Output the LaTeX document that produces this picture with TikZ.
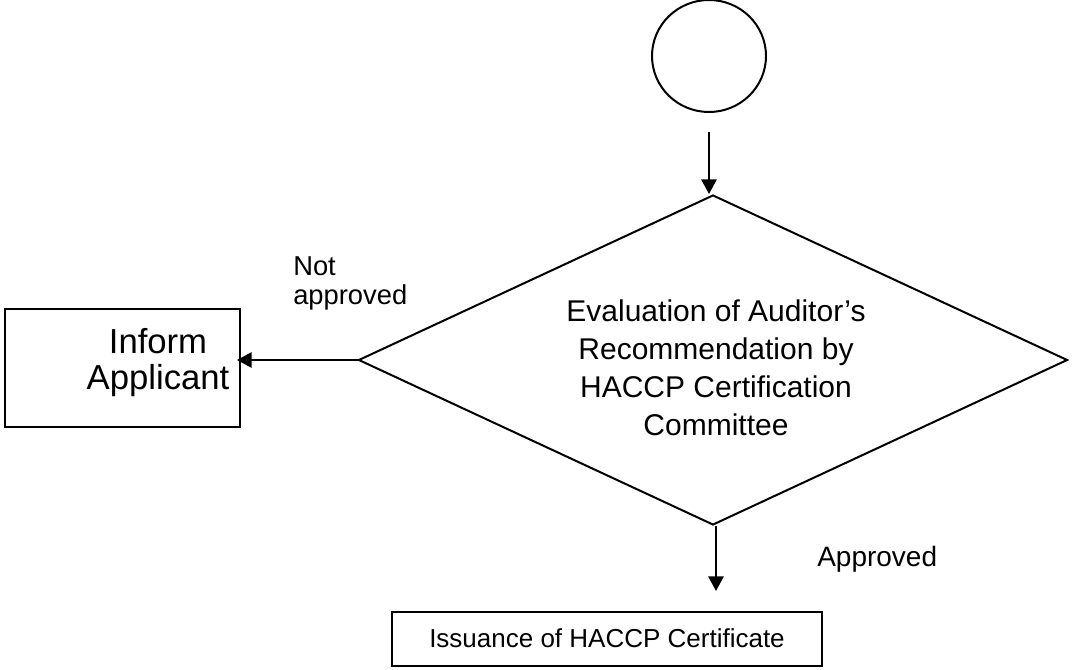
\documentclass[tikz,border=0pt]{standalone}
\usepackage{fontspec}
\setmainfont{Liberation Sans}
\usetikzlibrary{shapes.geometric,arrows.meta}
\begin{document}
\begin{tikzpicture}[x=0.75pt,y=-0.75pt,
  ln/.style={line width=1.5pt},
  arr/.style={ln,-{Triangle[length=11pt,width=11.5pt]}},
  boxst/.style={draw,ln,rectangle,inner sep=0pt},
  txt/.style={font=\fontsize{22.5}{28.5}\selectfont,align=center,inner sep=0pt},
  bigtxt/.style={font=\fontsize{26}{27}\selectfont,align=center,inner sep=0pt},
  smalltxt/.style={font=\fontsize{20.5}{22}\selectfont,align=left,inner sep=0pt}]
\useasboundingbox (0,0) rectangle (1072,670);
\node[draw,ln,ellipse,inner sep=0pt,minimum width=85.5pt,minimum height=84pt] (circ) at (709,56) {};
\node[draw,ln,diamond,aspect=2.15,inner sep=0pt,minimum width=531.75pt,minimum height=247.5pt] (dia) at (713,360) {};
\node[txt] (diatext) at (716,368) {Evaluation of Auditor’s\\Recommendation by\\HACCP Certification\\Committee};
\node[boxst,minimum width=176.25pt,minimum height=88.5pt] (lbox) at (122.5,368) {};
\node[bigtxt] (ltext) at (158,363) {Inform\\Applicant};
\node[boxst,minimum width=322.5pt,minimum height=40.5pt] (bbox) at (607,639) {};
\node[font=\fontsize{19.5}{24}\selectfont,inner sep=0pt] (btext) at (607,638) {Issuance of HACCP Certificate};
\node[smalltxt,anchor=north west] (notapp) at (293,256) {Not\\approved};
\node[font=\fontsize{21}{24}\selectfont,inner sep=0pt,anchor=base west] (app) at (817,566) {Approved};
\draw[arr,shorten <=14pt] (circ.south) -- (circ.south |- dia.north);
\draw[arr,shorten >=-3pt] (dia.west) -- (dia.west -| lbox.east);
\draw[arr,shorten >=15pt] ([xshift=2.25pt]dia.south) -- ([xshift=2.25pt]dia.south |- bbox.north);
\end{tikzpicture}
\end{document}
